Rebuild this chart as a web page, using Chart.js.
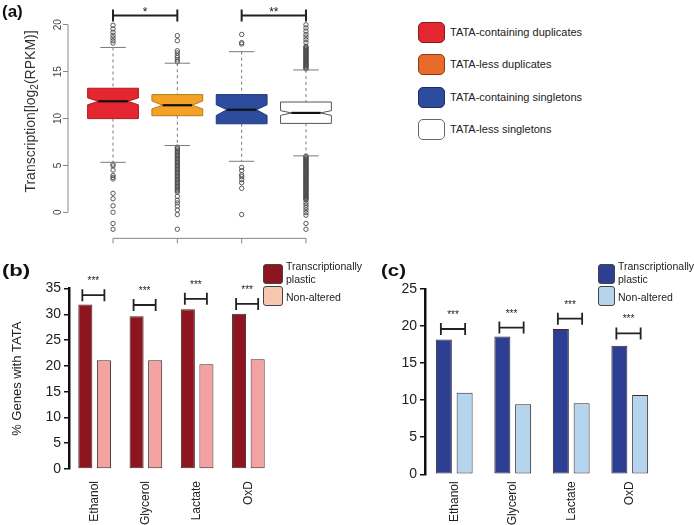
<!DOCTYPE html>
<html><head><meta charset="utf-8">
<script src="https://cdn.jsdelivr.net/npm/chart.js@4.4.1/dist/chart.umd.min.js"></script>
<style>
html,body{margin:0;padding:0;background:#fff;width:694px;height:525px;overflow:hidden;font-family:"Liberation Sans",Arial,sans-serif;}
canvas{position:absolute;display:block}
.pl{position:absolute;font-weight:bold;font-size:17px;line-height:17px;color:#111;transform-origin:0 0;white-space:nowrap}
.sw{position:absolute;box-sizing:border-box;border-radius:4px}
.lt{position:absolute;white-space:nowrap;color:#222}
</style></head><body>
<canvas id="ca" width="360" height="250" style="left:0;top:0"></canvas>
<canvas id="cb" width="290" height="270" style="left:0;top:255px"></canvas>
<canvas id="cc" width="334" height="270" style="left:360px;top:255px"></canvas>
<div class="pl" style="left:2px;top:3px">(a)</div>
<div class="pl" style="left:2px;top:262px;transform:scaleX(1.3)">(b)</div>
<div class="pl" style="left:381px;top:262px;transform:scaleX(1.2)">(c)</div>
<div id="legs"></div>
<script>
// ---------- Panel (a) data ----------
const groupsA = ['TATA-containing duplicates','TATA-less duplicates','TATA-containing singletons','TATA-less singletons'];
const boxQ1 = [9.99, 10.30, 9.44, 9.48];
const boxMedian = [11.84, 11.42, 10.94, 10.60];
const boxQ3 = [13.23, 12.55, 12.55, 11.76];
const notchLow = [11.46, 11.02, 10.33, 10.33];
const notchHigh = [12.20, 11.87, 11.46, 10.84];
const whiskerLow = [5.33, 7.12, 5.44, 6.02];
const whiskerHigh = [17.58, 15.90, 17.13, 15.18];
const outRed = [19.95, 19.55, 19.2, 18.87, 18.6, 18.3, 18.05, 5.13, 4.96, 4.51, 3.94, 3.73, 3.56, 2.02, 1.44, 0.69, 0.0, -1.19, -1.81];
const outOrange = [18.84, 18.3, 17.23, 17.0, 16.7, 16.5, 16.25, 16.04, 6.95, 6.8, 6.65, 6.5, 6.35, 6.2, 6.05, 5.9, 5.75, 5.6, 5.45, 5.3, 5.15, 5.0, 4.85, 4.7, 4.55, 4.4, 4.25, 4.1, 3.95, 3.8, 3.65, 3.5, 3.35, 3.2, 3.05, 2.9, 2.75, 2.6, 2.45, 2.3, 2.15, 1.7, 1.27, 1.0, 0.66, 0.25, -0.24, -1.81];
const outBlue = [18.97, 18.1, 17.95, 4.79, 4.45, 4.0, 3.8, 3.49, 3.15, 2.56, -0.24];
const outWhite = [20.0, 19.66, 19.32, 18.97, 18.7, 18.4, 18.1, 17.7, 17.6, 17.5, 17.4, 17.3, 17.2, 17.1, 17.0, 16.9, 16.8, 16.7, 16.6, 16.5, 16.4, 16.3, 16.2, 16.1, 16.0, 15.9, 15.8, 15.7, 15.6, 15.5, 15.4, 15.3, 6.0, 5.9, 5.8, 5.7, 5.6, 5.5, 5.4, 5.3, 5.2, 5.1, 5.0, 4.9, 4.8, 4.7, 4.6, 4.5, 4.4, 4.3, 4.2, 4.1, 4.0, 3.9, 3.8, 3.7, 3.6, 3.5, 3.4, 3.3, 3.2, 3.1, 3.0, 2.9, 2.8, 2.7, 2.6, 2.5, 2.4, 2.3, 2.2, 2.1, 2.0, 1.9, 1.8, 1.7, 1.6, 1.5, 1.4, 1.3, 1.0, 0.76, 0.51, 0.25, -0.03, -0.31, -1.19, -1.81];
const yTicksA = [0, 5, 10, 15, 20];
const sigPairsA = [[1, 2], [3, 4]];
const sigLabelsA = ['*', '**'];
const sigLevelA = 21.0;
const yTitleA = ['Transcription[log', '2', '(RPKM)]'];

// ---------- Panels (b), (c) data ----------
const categories = ['Ethanol', 'Glycerol', 'Lactate', 'OxD'];
const seriesNames = ['Transcriptionally plastic', 'Non-altered'];
const legendLines = [['Transcriptionally', 'plastic'], ['Non-altered']];
const plasticB = [31.9, 29.6, 31.0, 30.1];
const nonAlteredB = [21.1, 21.1, 20.3, 21.3];
const sigB = [33.7, 31.8, 33.0, 32.0];
const plasticC = [18.2, 18.6, 19.6, 17.35];
const nonAlteredC = [11.0, 9.45, 9.6, 10.7];
const sigC = [19.6, 19.8, 21.0, 19.0];
const sigText = ['***', '***', '***', '***'];

// ---------- styles ----------
const FONT = '"Liberation Sans", Arial, sans-serif';
const boxFill = ['#e3262f', '#f4a225', '#2e4c9d', '#ffffff'];
const boxEdge = ['#b01c24', '#b9791a', '#203a7c', '#555555'];
const legFillA = ['#e3262f', '#ea6a2b', '#2e4c9d', '#ffffff'];
const legEdgeA = ['#8b1a1a', '#8a3d10', '#1c2f66', '#666666'];
const colsB = ['#8e1520', '#f3a1a1'];
const legColsB = ['#8e1520', '#f9c6ae'];
const colsC = ['#2d3f93', '#b5d4ee'];
const legColsC = ['#2d3f93', '#b5d4ee'];

// ---------- Panel (a) ----------
const boxPlugin = {
  id: 'boxes',
  afterDatasetsDraw(chart) {
    const {ctx, scales: {x, y}} = chart;
    const hw = 0.395;
    ctx.save();
    for (let i = 0; i < groupsA.length; i++) {
      const cx = x.getPixelForValue(i + 1);
      const l = x.getPixelForValue(i + 1 - hw), r = x.getPixelForValue(i + 1 + hw);
      const w = r - l, ind = w * 0.21;
      const q1 = y.getPixelForValue(boxQ1[i]), q3 = y.getPixelForValue(boxQ3[i]);
      const md = y.getPixelForValue(boxMedian[i]);
      const nl = y.getPixelForValue(notchLow[i]), nh = y.getPixelForValue(notchHigh[i]);
      const wl = y.getPixelForValue(whiskerLow[i]), wh = y.getPixelForValue(whiskerHigh[i]);
      ctx.strokeStyle = '#7a7a7a'; ctx.lineWidth = 1; ctx.setLineDash([3, 3]);
      ctx.beginPath(); ctx.moveTo(cx, wh); ctx.lineTo(cx, q3); ctx.moveTo(cx, q1); ctx.lineTo(cx, wl); ctx.stroke();
      ctx.setLineDash([]);
      ctx.beginPath(); ctx.moveTo(cx - w / 4, wh); ctx.lineTo(cx + w / 4, wh);
      ctx.moveTo(cx - w / 4, wl); ctx.lineTo(cx + w / 4, wl); ctx.stroke();
      ctx.beginPath();
      ctx.moveTo(l, q3); ctx.lineTo(r, q3); ctx.lineTo(r, nh); ctx.lineTo(r - ind, md); ctx.lineTo(r, nl);
      ctx.lineTo(r, q1); ctx.lineTo(l, q1); ctx.lineTo(l, nl); ctx.lineTo(l + ind, md); ctx.lineTo(l, nh); ctx.closePath();
      ctx.fillStyle = boxFill[i]; ctx.fill();
      ctx.strokeStyle = boxEdge[i]; ctx.lineWidth = 1; ctx.stroke();
      ctx.strokeStyle = '#111'; ctx.lineWidth = 2.2;
      ctx.beginPath(); ctx.moveTo(l + ind, md); ctx.lineTo(r - ind, md); ctx.stroke();
    }
    // axes
    ctx.strokeStyle = '#888'; ctx.lineWidth = 1;
    const ax = chart.chartArea.left;
    ctx.beginPath(); ctx.moveTo(ax, y.getPixelForValue(0)); ctx.lineTo(ax, y.getPixelForValue(20)); ctx.stroke();
    const by = y.getPixelForValue(-2.78);
    ctx.beginPath(); ctx.moveTo(x.getPixelForValue(1), by); ctx.lineTo(x.getPixelForValue(4), by);
    for (let i = 1; i <= 4; i++) { const px = x.getPixelForValue(i); ctx.moveTo(px, by); ctx.lineTo(px, by + 5); }
    ctx.stroke();
    // y tick labels (rotated, R style)
    ctx.fillStyle = '#444'; ctx.font = '10px ' + FONT; ctx.textAlign = 'center'; ctx.textBaseline = 'middle';
    yTicksA.forEach(v => {
      ctx.save(); ctx.translate(58, y.getPixelForValue(v)); ctx.rotate(-Math.PI / 2);
      ctx.fillText(String(v), 0, 0); ctx.restore();
    });
    // y title
    ctx.save();
    ctx.translate(35, y.getPixelForValue(10.75)); ctx.rotate(-Math.PI / 2);
    ctx.fillStyle = '#333'; ctx.textBaseline = 'alphabetic'; ctx.textAlign = 'left';
    ctx.font = '14px ' + FONT;
    const w1 = ctx.measureText(yTitleA[0]).width, w3 = ctx.measureText(yTitleA[2]).width;
    ctx.font = '10px ' + FONT; const w2 = ctx.measureText(yTitleA[1]).width;
    let sx = -(w1 + w2 + w3) / 2;
    ctx.font = '14px ' + FONT; ctx.fillText(yTitleA[0], sx, 0); sx += w1;
    ctx.font = '10px ' + FONT; ctx.fillText(yTitleA[1], sx, 3); sx += w2;
    ctx.font = '14px ' + FONT; ctx.fillText(yTitleA[2], sx, 0);
    ctx.restore();
    // significance brackets
    ctx.strokeStyle = '#222'; ctx.lineWidth = 2; ctx.fillStyle = '#222';
    ctx.font = '12px ' + FONT; ctx.textAlign = 'center'; ctx.textBaseline = 'alphabetic';
    const sy = y.getPixelForValue(sigLevelA);
    sigPairsA.forEach((p, k) => {
      const x0 = x.getPixelForValue(p[0]), x1 = x.getPixelForValue(p[1]);
      ctx.beginPath(); ctx.moveTo(x0, sy); ctx.lineTo(x1, sy);
      ctx.moveTo(x0, sy - 6); ctx.lineTo(x0, sy + 6); ctx.moveTo(x1, sy - 6); ctx.lineTo(x1, sy + 6); ctx.stroke();
      ctx.fillText(sigLabelsA[k], (x0 + x1) / 2, sy + 1);
    });
    ctx.restore();
  }
};

const outlierSets = [outRed, outOrange, outBlue, outWhite];
new Chart(document.getElementById('ca'), {
  type: 'scatter',
  data: {
    datasets: outlierSets.map((arr, i) => ({
      label: groupsA[i],
      data: arr.map(v => ({x: i + 1, y: v})),
      pointRadius: 2.2, pointBorderWidth: 0.9, pointBorderColor: '#4a4a4a',
      pointBackgroundColor: 'rgba(0,0,0,0)', clip: false
    }))
  },
  options: {
    responsive: false, animation: false, events: [],
    layout: {padding: {left: 0, right: 9, top: 0, bottom: 0}},
    plugins: {legend: {display: false}, tooltip: {enabled: false}},
    scales: {
      x: {type: 'linear', min: 0.3, max: 4.7, display: false},
      y: {
        min: -3.5, max: 22.12,
        afterBuildTicks: s => { s.ticks = yTicksA.map(v => ({value: v})); },
        ticks: {display: false},
        grid: {drawOnChartArea: false, drawTicks: true, tickLength: 5, color: '#888'},
        border: {display: false},
        afterFit: s => { s.width = 68; }
      }
    }
  },
  plugins: [boxPlugin]
});

// ---------- Panels (b) and (c) ----------
function sigPlugin(values, labels) {
  return {
    id: 'sig',
    afterDatasetsDraw(chart) {
      const {ctx} = chart; const y = chart.scales.y;
      const m0 = chart.getDatasetMeta(0), m1 = chart.getDatasetMeta(1);
      ctx.save();
      ctx.strokeStyle = '#222'; ctx.lineWidth = 1.8; ctx.fillStyle = '#222';
      ctx.font = '10px ' + FONT; ctx.textAlign = 'center'; ctx.textBaseline = 'alphabetic';
      values.forEach((v, i) => {
        const x0 = m0.data[i].x - 3, x1 = m1.data[i].x + 0.5, py = y.getPixelForValue(v);
        ctx.beginPath(); ctx.moveTo(x0, py); ctx.lineTo(x1, py);
        ctx.moveTo(x0, py - 6); ctx.lineTo(x0, py + 6); ctx.moveTo(x1, py - 6); ctx.lineTo(x1, py + 6);
        ctx.stroke();
        ctx.fillText(labels[i], (x0 + x1) / 2, py - 11);
      });
      ctx.restore();
    }
  };
}

function barChart(id, d1, d2, cols, yMax, yWidth, padTop, padRight, xHeight, xPad, yTitle, sig, cp, bp) {
  new Chart(document.getElementById(id), {
    type: 'bar',
    data: {
      labels: categories,
      datasets: [d1, d2].map((d, i) => ({
        label: seriesNames[i], data: d, backgroundColor: cols[i], borderColor: '#3a2a2a',
        borderWidth: 1, borderSkipped: false, categoryPercentage: cp, barPercentage: bp
      }))
    },
    options: {
      responsive: false, animation: false, events: [],
      layout: {padding: {left: 0, right: padRight, top: padTop, bottom: 0}},
      plugins: {legend: {display: false}, tooltip: {enabled: false}},
      scales: {
        x: {
          grid: {display: false, drawTicks: false}, border: {display: false},
          ticks: {minRotation: 90, maxRotation: 90, padding: xPad, color: '#222', font: {family: FONT, size: 12}},
          afterFit: s => { s.height = xHeight; }
        },
        y: {
          min: 0, max: yMax,
          ticks: {stepSize: 5, padding: 3, color: '#222', font: {family: FONT, size: 14}},
          grid: {drawOnChartArea: false, drawTicks: true, tickLength: 5, color: '#111', lineWidth: 1.5},
          border: {display: true, color: '#111', width: 2.5},
          title: yTitle ? {display: true, text: yTitle, color: '#222', font: {family: FONT, size: 13}, padding: {top: 10, bottom: 0}} : {display: false},
          afterFit: s => { s.width = yWidth; }
        }
      }
    },
    plugins: [sigPlugin(sig, sigText)]
  });
}

barChart('cb', plasticB, nonAlteredB, colsB, 35, 69, 33.5, 16, 56, 12, '% Genes with TATA', sigB, 0.725, 0.757);
barChart('cc', plasticC, nonAlteredC, colsC, 25, 65, 34, 35, 50.7, 7, null, sigC, 0.71, 0.77);

// ---------- Legends (HTML text) ----------
const legs = document.getElementById('legs');
function add(html) { legs.insertAdjacentHTML('beforeend', html); }
const rowTopsA = [21.7, 54, 86.5, 119];
groupsA.forEach((name, i) => {
  add(`<div class="sw" style="left:418px;top:${rowTopsA[i]}px;width:27px;height:21px;background:${legFillA[i]};border:1px solid ${legEdgeA[i]};border-radius:5px"></div>`);
  add(`<div class="lt" style="left:450px;top:${rowTopsA[i] + 3}px;font-size:11px;line-height:14px">${name}</div>`);
});
function smallLegend(left, swW, cols, textLeft) {
  const swTops = [264, 286];
  cols.forEach((c, i) => {
    add(`<div class="sw" style="left:${left}px;top:${swTops[i]}px;width:${swW}px;height:20px;background:${c};border:1px solid #444;border-radius:3px"></div>`);
  });
  const lineCenters = [[266.5, 279], [297]];
  legendLines.forEach((lines, i) => {
    lines.forEach((t, j) => {
      add(`<div class="lt" style="left:${textLeft}px;top:${lineCenters[i][j] - 6.5}px;font-size:10.5px;line-height:13px">${t}</div>`);
    });
  });
}
smallLegend(263, 20, legColsB, 286);
smallLegend(598, 17, legColsC, 618);
</script>
</body></html>
